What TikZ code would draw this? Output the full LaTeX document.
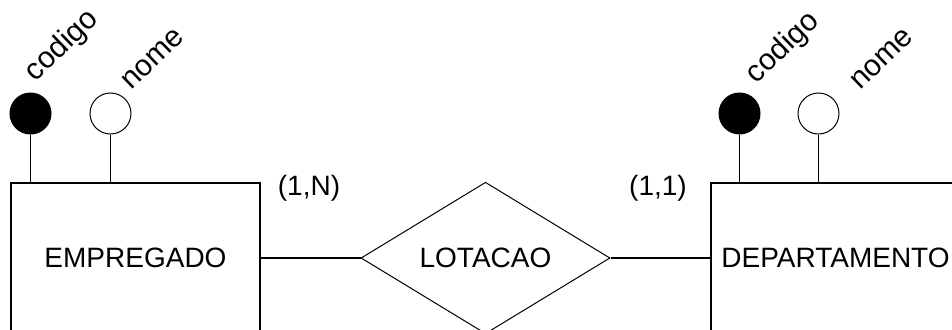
\documentclass[tikz,border=0pt]{standalone}
\usepackage{fontspec}
\setmainfont{Liberation Sans}
\usetikzlibrary{positioning, shapes.geometric, calc}

\begin{document}
\begin{tikzpicture}[x=1pt, y=-1pt,
                txt/.style={font=\fontsize{28}{34}\selectfont, inner sep=0pt},
                entity/.style={txt, draw, line width=1.4pt, minimum width=249pt,
                               minimum height=150pt},
                relation/.style={txt, draw, diamond, line width=1pt, minimum width=249pt,
                                 minimum height=148pt},
                keyattr/.style={draw, circle, fill=black, line width=1pt,
                                minimum size=41pt, inner sep=0pt},
                plainattr/.style={keyattr, fill=white},
                attrlbl/.style={txt, font=\fontsize{30}{34}\selectfont, rotate=44},
                link/.style={line width=1.4pt},
            ]
                \useasboundingbox (0,0) rectangle (952,329);
                \clip (0,0) rectangle (952,329);

                % Entities and relationship
                \node[entity] (emp) at (135.5,258) {EMPREGADO};
                \node[entity] (dep) at (835.5,258) {DEPARTAMENTO};
                \node[relation] (lot) at (485.5,258) {LOTACAO};
                \draw[link] (emp) -- (lot);
                \draw[link] (lot) -- (dep);

                % Cardinalities
                \node[txt] (cardemp) at (309,188) {(1,N)};
                \node[txt] (carddep) at (658,188) {(1,1)};

                % Attributes
                \foreach \nm/\x/\s/\lx/\ly/\t/\ent in {empcod/30.5/keyattr/62/46/codigo/emp,
                        empnom/110.5/plainattr/153/59/nome/emp,
                        depcod/739.5/keyattr/783/48/codigo/dep,
                        depnom/818.5/plainattr/882/59/nome/dep} {
                    \node[\s] (\nm) at (\x,113.5) {};
                    \draw[link] (\nm) -- (\nm |- \ent.north);
                    \node[attrlbl] (\nm-lbl) at (\lx,\ly) {\t};
                }
            \end{tikzpicture}
\end{document}
